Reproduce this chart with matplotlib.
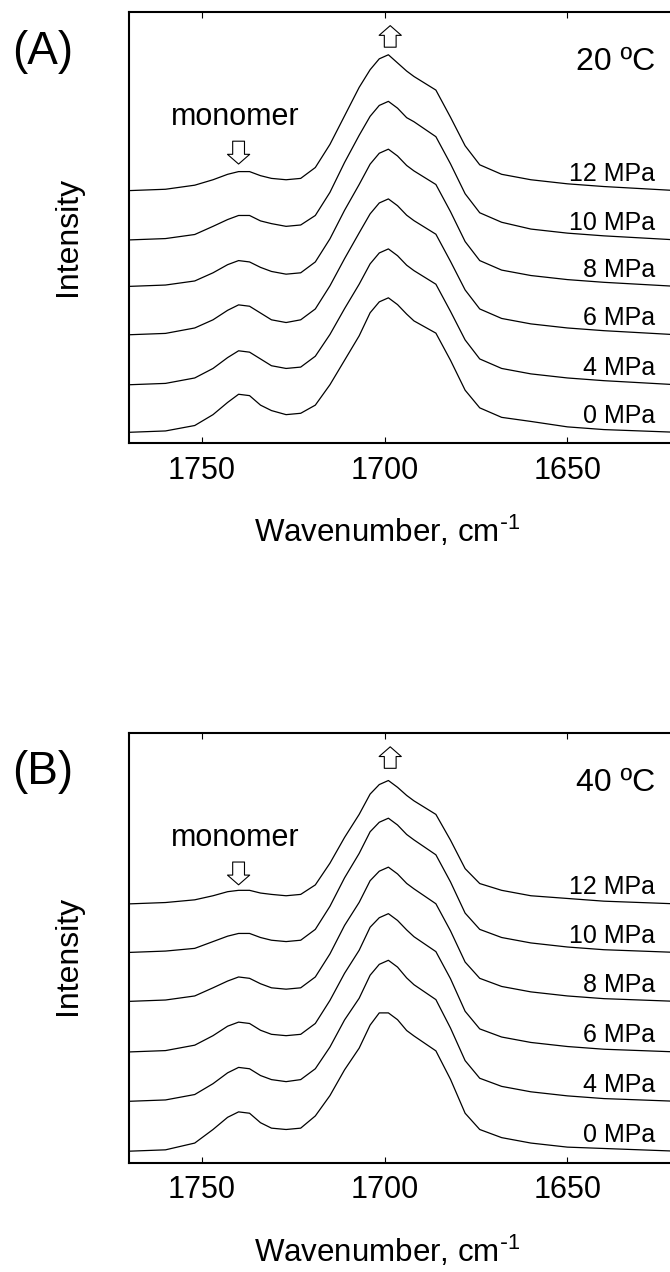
import matplotlib
matplotlib.use("Agg")
import matplotlib.pyplot as plt

plt.rcParams['font.family'] = ['Liberation Sans', 'DejaVu Sans']
plt.rcParams['mathtext.default'] = 'regular'

# --- Data ---
wavenumber = [1770, 1760, 1752, 1747, 1743, 1740, 1737, 1734, 1731, 1727, 1723, 1719, 1715, 1711,
              1707, 1704, 1701.5, 1699, 1696.5, 1694, 1692, 1686, 1682, 1678, 1674, 1668, 1660,
              1650, 1640, 1620]

pressures = ["0 MPa", "4 MPa", "6 MPa", "8 MPa", "10 MPa", "12 MPa"]

# panel A, 20 C
a_0 = [0.00, 0.01, 0.05, 0.13, 0.22, 0.28, 0.27, 0.20, 0.16, 0.13, 0.14, 0.20, 0.35, 0.53,
       0.71, 0.88, 0.96, 0.99, 0.94, 0.87, 0.82, 0.73, 0.53, 0.31, 0.18, 0.11, 0.08,
       0.04, 0.02, 0.00]
a_4 = [0.00, 0.01, 0.05, 0.12, 0.20, 0.25, 0.24, 0.19, 0.14, 0.12, 0.13, 0.21, 0.37, 0.56,
       0.74, 0.89, 0.97, 1.00, 0.95, 0.88, 0.84, 0.74, 0.54, 0.33, 0.19, 0.12, 0.08,
       0.05, 0.03, 0.00]
a_6 = [0.00, 0.01, 0.05, 0.11, 0.18, 0.22, 0.21, 0.16, 0.11, 0.09, 0.11, 0.19, 0.36, 0.56,
       0.75, 0.89, 0.97, 1.00, 0.95, 0.88, 0.84, 0.74, 0.54, 0.33, 0.19, 0.12, 0.08,
       0.05, 0.03, 0.00]
a_8 = [0.00, 0.01, 0.04, 0.10, 0.16, 0.19, 0.18, 0.14, 0.11, 0.09, 0.10, 0.18, 0.35, 0.56,
       0.75, 0.90, 0.98, 1.01, 0.96, 0.89, 0.85, 0.75, 0.55, 0.33, 0.19, 0.12, 0.08,
       0.05, 0.03, 0.00]
a_10 = [0.00, 0.01, 0.04, 0.10, 0.15, 0.18, 0.18, 0.14, 0.12, 0.10, 0.11, 0.18, 0.35, 0.57,
        0.77, 0.91, 0.99, 1.02, 0.97, 0.90, 0.87, 0.76, 0.56, 0.34, 0.20, 0.13, 0.08,
        0.05, 0.03, 0.00]
a_12 = [0.00, 0.01, 0.04, 0.08, 0.12, 0.14, 0.14, 0.11, 0.09, 0.08, 0.09, 0.17, 0.34, 0.55,
        0.76, 0.89, 0.97, 1.00, 0.94, 0.88, 0.84, 0.74, 0.54, 0.33, 0.19, 0.12, 0.08,
        0.05, 0.03, 0.00]

# panel B, 40 C
b_0 = [0.00, 0.01, 0.06, 0.16, 0.25, 0.29, 0.28, 0.21, 0.17, 0.16, 0.17, 0.26, 0.41, 0.60,
       0.76, 0.93, 1.02, 1.02, 0.97, 0.89, 0.85, 0.74, 0.53, 0.28, 0.16, 0.10, 0.06,
       0.03, 0.02, 0.00]
b_4 = [0.00, 0.01, 0.05, 0.13, 0.21, 0.25, 0.24, 0.19, 0.16, 0.145, 0.16, 0.24, 0.40, 0.60,
       0.76, 0.93, 1.01, 1.04, 0.99, 0.91, 0.86, 0.75, 0.54, 0.30, 0.17, 0.11, 0.07,
       0.04, 0.02, 0.00]
b_6 = [0.00, 0.01, 0.05, 0.12, 0.19, 0.22, 0.21, 0.16, 0.13, 0.12, 0.13, 0.21, 0.38, 0.58,
       0.75, 0.92, 0.99, 1.02, 0.97, 0.90, 0.85, 0.74, 0.54, 0.30, 0.17, 0.11, 0.07,
       0.04, 0.02, 0.00]
b_8 = [0.00, 0.01, 0.04, 0.10, 0.15, 0.18, 0.17, 0.13, 0.10, 0.09, 0.10, 0.18, 0.35, 0.56,
       0.73, 0.89, 0.96, 0.99, 0.94, 0.87, 0.83, 0.72, 0.52, 0.29, 0.17, 0.11, 0.07,
       0.04, 0.02, 0.00]
b_10 = [0.00, 0.01, 0.03, 0.08, 0.12, 0.14, 0.14, 0.11, 0.09, 0.08, 0.09, 0.17, 0.34, 0.55,
        0.73, 0.89, 0.96, 0.99, 0.94, 0.87, 0.83, 0.72, 0.52, 0.29, 0.17, 0.11, 0.07,
        0.04, 0.02, 0.00]
b_12 = [0.00, 0.01, 0.03, 0.06, 0.09, 0.10, 0.10, 0.08, 0.07, 0.06, 0.07, 0.14, 0.30, 0.49,
        0.66, 0.81, 0.88, 0.91, 0.86, 0.80, 0.76, 0.66, 0.47, 0.26, 0.15, 0.10, 0.06,
        0.04, 0.02, 0.00]

offsets_a = [0.0, 0.35, 0.718, 1.074, 1.416, 1.779]
offsets_b = [0.0, 0.368, 0.732, 1.105, 1.466, 1.824]

ticks = [1750, 1700, 1650]


def draw_panel(fig, rect, traces, offsets, ylim, letter, temp, letter_y, ylab_y, xlab_y):
    ax = fig.add_axes(rect)
    for spec, off, lab in zip(traces, offsets, pressures):
        ax.plot(wavenumber, [v + off for v in spec], color='black', linewidth=0.9)
        ax.text(1626, off + 0.07, lab, ha='right', va='baseline', fontsize=18)

    ax.set_xlim(1770, 1620)
    ax.set_ylim(*ylim)
    ax.set_xticks(ticks)
    ax.set_yticks([])
    ax.tick_params(axis='x', direction='in', top=True, length=4, width=0.8,
                   labelsize=22, pad=9)
    for s in ax.spines.values():
        s.set_linewidth(1.5)

    # hollow block arrows + labels
    arrow = dict(arrowstyle='simple,head_width=1.6,head_length=0.7,tail_width=0.85',
                 fc='white', ec='black', lw=0.8, shrinkA=0, shrinkB=0)
    ax.annotate('', xy=(1740, 0.647), xytext=(1740, 0.700),
                xycoords=('data', 'axes fraction'), arrowprops=arrow)
    ax.annotate('', xy=(1698.5, 0.968), xytext=(1698.5, 0.918),
                xycoords=('data', 'axes fraction'), arrowprops=arrow)
    ax.text(1741, 0.737, "monomer", transform=ax.get_xaxis_transform(),
            ha='center', va='baseline', fontsize=22)
    ax.text(1626, 0.866, temp, transform=ax.get_xaxis_transform(),
            ha='right', va='baseline', fontsize=23)

    fig.text(0.064, letter_y, letter, ha='center', va='center', fontsize=33)
    fig.text(0.101, ylab_y, "Intensity", rotation=90, ha='center', va='center', fontsize=23)
    fig.text(0.578, xlab_y, r"Wavenumber, cm$^{\text{-}1}$", ha='center', va='baseline',
             fontsize=22.5)
    return ax


fig = plt.figure(figsize=(6.7, 12.72), dpi=100)

draw_panel(fig, [0.1925, 0.6517, 0.818, 0.339],
           [a_0, a_4, a_6, a_8, a_10, a_12], offsets_a, (-0.079, 3.095),
           "(A)", "20 ºC", 0.959, 0.814, 0.574)
draw_panel(fig, [0.1925, 0.0857, 0.818, 0.338],
           [b_0, b_4, b_6, b_8, b_10, b_12], offsets_b, (-0.087, 3.084),
           "(B)", "40 ºC", 0.393, 0.249, 0.008)

fig.savefig("out.png", dpi=100)
